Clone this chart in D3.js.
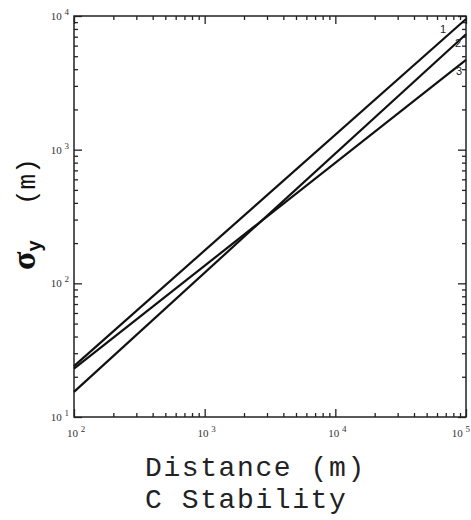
<!DOCTYPE html><html><head><meta charset="UTF-8"><title>sigma y - C stability</title><script src="https://d3js.org/d3.v7.min.js"></script><style>
        body { margin: 0; background: #fff; }
        svg { display: block; background: #fff; }
        .tick-label { font-family: "Liberation Serif", serif; font-size: 11px; fill: #333; }
        .curve { fill: none; stroke: #111; stroke-width: 2.2px; }
        .frame { fill: none; stroke: #222; stroke-width: 1.5px; }
        .axis line { stroke: #222; stroke-width: 1.3px; }
        .axis path { display: none; }
        .series-label { font-family: "Liberation Sans", sans-serif; font-size: 11px; fill: #222; }
        .title { font-family: "Liberation Mono", "Courier New", monospace; font-size: 28px; letter-spacing: 1.6px; fill: #222; }
    </style></head><body><svg id="chart"></svg><script>
        // distance (m) at the two ends of each line
        const distance = [100, 100000];
        // sigma y (m) for each curve, read at the ends
        const curve1 = [24, 9500];
        const curve2 = [15.4, 7300];
        const curve3 = [23, 4700];
        const seriesNames = ["1", "2", "3"];
        const xMajor = [1e2, 1e3, 1e4, 1e5];
        const yMajor = [1e1, 1e2, 1e3, 1e4];

        const width = 471, height = 520;
        const m = { left: 74, right: 466, top: 16, bottom: 417 };

        const svg = d3.select("#chart").attr("width", width).attr("height", height);

        const x = d3.scaleLog().domain([1e2, 1e5]).range([m.left, m.right]);
        const y = d3.scaleLog().domain([1e1, 1e4]).range([m.bottom, m.top]);

        const xMinor = x.ticks().filter(v => !xMajor.includes(v));
        const yMinor = y.ticks().filter(v => !yMajor.includes(v));

        // ticks on all four sides, pointing inward
        function ticks(axisFn, scale, transform) {
            const isX = scale === x;
            svg.append("g").attr("class", "axis").attr("transform", transform)
                .call(axisFn(scale).tickValues(isX ? xMinor : yMinor).tickSize(4).tickFormat(""));
            svg.append("g").attr("class", "axis").attr("transform", transform)
                .call(axisFn(scale).tickValues(isX ? xMajor : yMajor).tickSize(8).tickFormat(""));
        }
        ticks(d3.axisTop, x, `translate(0,${m.bottom})`);
        ticks(d3.axisBottom, x, `translate(0,${m.top})`);
        ticks(d3.axisRight, y, `translate(${m.left},0)`);
        ticks(d3.axisLeft, y, `translate(${m.right},0)`);

        svg.append("rect").attr("class", "frame")
            .attr("x", m.left).attr("y", m.top)
            .attr("width", m.right - m.left).attr("height", m.bottom - m.top);

        // tick labels 10^n
        const exp = v => Math.round(Math.log10(v));
        yMajor.forEach(v => {
            const t = svg.append("text").attr("class", "tick-label")
                .attr("x", m.left - 5).attr("y", y(v) + 4).attr("text-anchor", "end");
            t.append("tspan").text("10 ");
            t.append("tspan").attr("dy", -5).attr("font-size", 9).text(exp(v));
        });
        xMajor.forEach((v, i) => {
            const last = i === xMajor.length - 1;
            const t = svg.append("text").attr("class", "tick-label")
                .attr("x", last ? width - 1 : x(v) + 2).attr("y", m.bottom + 20)
                .attr("text-anchor", last ? "end" : "middle");
            t.append("tspan").text("10 ");
            t.append("tspan").attr("dy", -5).attr("font-size", 9).text(exp(v));
        });

        // curves
        const line = d3.line().x((d, i) => x(distance[i])).y(d => y(d));
        const curves = [curve1, curve2, curve3];
        svg.selectAll(".curve").data(curves).enter().append("path")
            .attr("class", "curve").attr("d", line);

        const labelOffset = [[-26, 14], [-11, 13], [-10, 15]];
        curves.forEach((c, i) => {
            svg.append("text").attr("class", "series-label")
                .attr("x", x(distance[1]) + labelOffset[i][0])
                .attr("y", y(c[1]) + labelOffset[i][1])
                .text(seriesNames[i]);
        });

        // y title
        const yt = svg.append("text").attr("transform", "translate(35,270) rotate(-90)").attr("fill", "#111");
        yt.append("tspan").attr("font-family", "Liberation Serif, serif").attr("font-weight", "bold")
            .attr("font-size", 34).text("σ");
        yt.append("tspan").attr("font-family", "Liberation Sans, sans-serif").attr("font-weight", "bold")
            .attr("font-size", 20).attr("dy", 6).text("y");
        yt.append("tspan").attr("font-family", "Liberation Mono, monospace").attr("font-size", 26)
            .attr("x", 65).attr("dy", -6).text("(m)");

        // x titles
        svg.append("text").attr("class", "title").attr("x", 145).attr("y", 476).text("Distance (m)");
        svg.append("text").attr("class", "title").attr("x", 145).attr("y", 508).text("C Stability");
    </script></body></html>
